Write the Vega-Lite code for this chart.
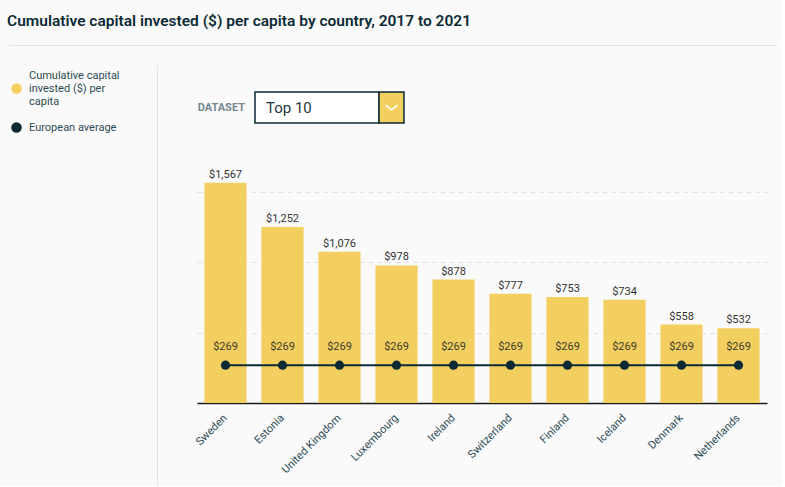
{
  "$schema": "https://vega.github.io/schema/vega-lite/v6.json",
  "background": "#fafafa",
  "padding": {"left": 7, "top": 13, "right": 5, "bottom": 0},
  "config": {
    "font": "Roboto",
    "view": {"stroke": null}
  },
  "bounds": "flush",
  "spacing": 20,
  "vconcat": [
    {
      "width": 768,
      "height": 1,
      "title": {
        "text": "Cumulative capital invested ($) per capita by country, 2017 to 2021",
        "anchor": "start",
        "fontSize": 15.5,
        "fontWeight": 600,
        "color": "#0b2a35",
        "baseline": "alphabetic",
        "offset": 3,
        "dx": -2
      },
      "data": {"values": [{"k": 0}]},
      "mark": {"type": "point", "opacity": 0, "size": 0},
      "encoding": {
        "x": {
          "datum": 0,
          "type": "quantitative",
          "scale": {"domain": [0, 1]},
          "axis": {"domain": true, "domainColor": "#e3e3e3", "domainWidth": 1, "ticks": false, "labels": false, "grid": false, "title": null}
        }
      }
    },
    {
      "spacing": 40,
      "bounds": "flush",
      "hconcat": [
        {
          "width": 148,
          "height": 421,
          "data": {"values": [{"k": 0}]},
          "mark": {"type": "point", "opacity": 0, "size": 0},
          "encoding": {
            "y": {
              "datum": 1,
              "type": "quantitative",
              "scale": {"domain": [0, 1]},
              "axis": {"orient": "right", "domain": true, "domainColor": "#e3e3e3", "domainWidth": 1, "ticks": false, "labels": false, "grid": false, "title": null}
            }
          }
        },
        {
          "spacing": 113,
          "bounds": "flush",
          "vconcat": [
            {
              "spacing": 26,
              "bounds": "flush",
              "vconcat": [
                {
                  "width": 1,
                  "height": 1,
                  "data": {"values": [{"k": 0}]},
                  "mark": {"type": "point", "opacity": 0, "size": 0},
                  "encoding": {}
                },
                {
                  "spacing": 0,
                  "bounds": "flush",
                  "hconcat": [
                    {
                      "width": 58,
                      "height": 31,
                      "data": {"values": [{"label": "DATASET"}]},
                      "mark": {"type": "text", "align": "right", "dx": 19, "baseline": "middle", "fontSize": 11, "fontWeight": "bold", "letterSpacing": 2.4, "color": "#758890"},
                      "encoding": {"text": {"field": "label"}}
                    },
                    {
                      "width": 124,
                      "height": 31,
                      "view": {"fill": "white", "stroke": "#0b2a35", "strokeWidth": 1.5},
                      "data": {"values": [{"dataset": "Top 10"}]},
                      "mark": {"type": "text", "align": "left", "dx": -51, "baseline": "middle", "fontSize": 15, "color": "#1d3540"},
                      "encoding": {"text": {"field": "dataset"}}
                    },
                    {
                      "width": 25,
                      "height": 31,
                      "view": {"fill": "#f3cf60", "stroke": "#0b2a35", "strokeWidth": 1.5},
                      "data": {"values": [{"icon": "chevron"}]},
                      "mark": {"type": "point", "shape": "M-1,-0.4L0,0.4L1,-0.4", "size": 144, "filled": false, "stroke": "white", "strokeWidth": 1.5, "opacity": 1},
                      "encoding": {}
                    }
                  ]
                }
              ]
            },
            {
              "width": 570,
              "height": 225,
              "data": {
                "values": [
                  {"country": "Sweden", "value": 1567, "avg": 269},
                  {"country": "Estonia", "value": 1252, "avg": 269},
                  {"country": "United Kingdom", "value": 1076, "avg": 269},
                  {"country": "Luxembourg", "value": 978, "avg": 269},
                  {"country": "Ireland", "value": 878, "avg": 269},
                  {"country": "Switzerland", "value": 777, "avg": 269},
                  {"country": "Finland", "value": 753, "avg": 269},
                  {"country": "Iceland", "value": 734, "avg": 269},
                  {"country": "Denmark", "value": 558, "avg": 269},
                  {"country": "Netherlands", "value": 532, "avg": 269}
                ]
              },
              "encoding": {
                "x": {
                  "field": "country",
                  "type": "nominal",
                  "sort": null,
                  "scale": {"paddingInner": 0.26, "paddingOuter": 0.13},
                  "axis": {
                    "title": null,
                    "labelAngle": -45,
                    "labelAlign": "right",
                    "labelBaseline": "middle",
                    "labelFontSize": 11,
                    "labelColor": "#2c4a55",
                    "labelPadding": 13,
                    "labelOffset": 0,
                    "ticks": false,
                    "domainColor": "#1a1a1a",
                    "domainWidth": 1.5
                  }
                }
              },
              "layer": [
                {
                  "mark": {"type": "bar"},
                  "encoding": {
                    "y": {
                      "field": "value",
                      "type": "quantitative",
                      "scale": {"domain": [0, 1600], "nice": false},
                      "axis": {"title": null, "labels": false, "ticks": false, "domain": false, "grid": true, "gridDash": [5, 4], "gridColor": "#e0e0e0", "values": [500, 1000, 1500]}
                    },
                    "color": {
                      "datum": "Cumulative capital invested ($) per capita",
                      "type": "nominal",
                      "scale": {
                        "domain": ["Cumulative capital invested ($) per capita", "European average"],
                        "range": ["#f3cf60", "#0b2a35"]
                      },
                      "legend": {
                        "orient": "none",
                        "legendX": 2,
                        "legendY": 39,
                        "title": null,
                        "symbolType": "circle",
                        "symbolSize": 50,
                        "symbolStrokeWidth": 3.5,
                        "labelFontSize": 11,
                        "labelColor": "#2c4a55",
                        "labelLimit": 200,
                        "labelOffset": 7,
                        "labelBaseline": "middle",
                        "rowPadding": 9,
                        "labelExpr": "datum.label == 'European average' ? datum.label : ['Cumulative capital', 'invested ($) per', 'capita']",
                        "encode": {
                          "symbols": {"update": {"fill": {"value": "white"}, "stroke": {"scale": "color", "field": "value"}, "strokeWidth": {"value": 3.5}, "opacity": {"value": 1}}},
                          "labels": {"update": {"lineHeight": {"value": 13}, "dy": {"signal": "datum.label == 'European average' ? 0 : -13"}}}
                        }
                      }
                    }
                  }
                },
                {
                  "mark": {"type": "text", "baseline": "bottom", "dy": -3, "fontSize": 11, "color": "#333333"},
                  "encoding": {
                    "y": {"field": "value", "type": "quantitative"},
                    "text": {"field": "value", "type": "quantitative", "format": "$,.0f"}
                  }
                },
                {
                  "mark": {"type": "line", "strokeWidth": 2},
                  "encoding": {
                    "y": {"field": "avg", "type": "quantitative"},
                    "color": {"datum": "European average", "type": "nominal"}
                  }
                },
                {
                  "mark": {"type": "point", "filled": true, "size": 85, "opacity": 1},
                  "encoding": {
                    "y": {"field": "avg", "type": "quantitative"},
                    "color": {"datum": "European average", "type": "nominal"}
                  }
                },
                {
                  "mark": {"type": "text", "baseline": "middle", "dy": -18, "fontSize": 11, "color": "#3b3a2c"},
                  "encoding": {
                    "y": {"field": "avg", "type": "quantitative"},
                    "text": {"field": "avg", "type": "quantitative", "format": "$,.0f"}
                  }
                }
              ]
            }
          ]
        }
      ]
    }
  ]
}
